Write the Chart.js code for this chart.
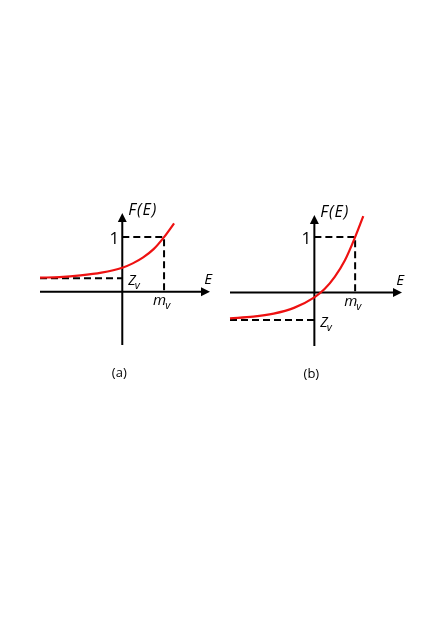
<!DOCTYPE html>
<html>
<head>
<meta charset="utf-8">
<script src="https://cdn.jsdelivr.net/npm/chart.js@4.4.1/dist/chart.umd.min.js"></script>
<style>
  body { margin: 0; background: #fff; }
  canvas { position: absolute; left: 0; top: 0; }
</style>
</head>
<body>
<canvas id="panelA" width="436" height="617"></canvas>
<canvas id="panelB" width="436" height="617"></canvas>
<script>
// panel (a) (E on x, F(E) on y)
const curveA_E = [-1.97, -1.5, -1.0, -0.5, 0, 0.25, 0.5, 0.75, 1.0, 1.24];
const curveA_F = [0.26, 0.27, 0.30, 0.35, 0.44, 0.52, 0.63, 0.78, 1.0, 1.25];
const rangeA_E = [-1.97, 2.1];
const rangeA_F = [-0.97, 1.44];
const zvA = 0.25;
const mvA = 1;

// panel (b)
const curveB_E = [-2.07, -1.5, -1.0, -0.5, 0, 0.25, 0.5, 0.75, 1.0, 1.2];
const curveB_F = [-0.47, -0.44, -0.385, -0.28, -0.09, 0.06, 0.28, 0.58, 1.0, 1.38];
const rangeB_E = [-2.07, 2.15];
const rangeB_F = [-0.97, 1.4];
const zvB = -0.5;
const mvB = 1;

// texte
const axisLabels = ["F(E)", "E", "1"];
const zLabel = ["Z", "v"];
const mLabel = ["m", "v"];
const panelLabels = ["(a)", "(b)"];

const FONT = "'Open Sans', 'Liberation Sans', Arial, sans-serif";

function toPoints(xs, ys) {
  return xs.map((x, i) => ({ x: x, y: ys[i] }));
}

// ve chu co chi so duoi
function subText(ctx, main, sub, x, y, mainFont, subFont) {
  ctx.font = mainFont;
  ctx.textAlign = "left";
  ctx.textBaseline = "middle";
  ctx.fillText(main, x, y);
  const w = ctx.measureText(main).width;
  ctx.font = subFont;
  ctx.fillText(sub, x + w - 1, y + 5);
}

function makePanel(id, E, F, range, yRange, zv, mv, label, pad) {
  const ctx = document.getElementById(id).getContext("2d");

  // truc co mui ten + chu
  const axesPlugin = {
    id: "axesArrows",
    beforeDatasetsDraw(chart) {
      const c = chart.ctx;
      const xs = chart.scales.x, ys = chart.scales.y;
      const x0 = xs.getPixelForValue(0), y0 = ys.getPixelForValue(0);
      const left = xs.getPixelForValue(range[0]), right = xs.getPixelForValue(range[1]);
      const top = ys.getPixelForValue(yRange[1]), bottom = ys.getPixelForValue(yRange[0]);
      c.save();
      c.strokeStyle = "#000";
      c.fillStyle = "#000";
      c.lineWidth = 2;
      c.beginPath();
      c.moveTo(left, y0); c.lineTo(right - 6, y0);
      c.moveTo(x0, bottom); c.lineTo(x0, top + 6);
      c.stroke();
      c.beginPath();
      c.moveTo(right, y0); c.lineTo(right - 9, y0 - 4.5); c.lineTo(right - 9, y0 + 4.5); c.closePath();
      c.fill();
      c.beginPath();
      c.moveTo(x0, top); c.lineTo(x0 - 4.5, top + 9); c.lineTo(x0 + 4.5, top + 9); c.closePath();
      c.fill();
      c.restore();
    },
    afterDraw(chart) {
      const c = chart.ctx;
      const xs = chart.scales.x, ys = chart.scales.y;
      const x0 = xs.getPixelForValue(0), y0 = ys.getPixelForValue(0);
      const right = xs.getPixelForValue(range[1]);
      const top = ys.getPixelForValue(yRange[1]);
      const bottom = ys.getPixelForValue(yRange[0]);
      c.save();
      c.fillStyle = "#000";
      c.textBaseline = "middle";
      c.textAlign = "left";
      c.font = "italic 16px " + FONT;
      c.letterSpacing = "1px";
      c.fillText(axisLabels[0], x0 + 6, top - 3);
      c.letterSpacing = "0px";
      c.textAlign = "center";
      c.font = "italic 15px " + FONT;
      c.fillText(axisLabels[1], right - 2, y0 - 12);
      c.font = "17px " + FONT;
      c.fillText(axisLabels[2], x0 - 8, ys.getPixelForValue(1) + 2);
      subText(c, zLabel[0], zLabel[1], x0 + 6, ys.getPixelForValue(zv) + 3,
        "italic 14px " + FONT, "italic 11px " + FONT);
      subText(c, mLabel[0], mLabel[1], xs.getPixelForValue(mv) - 11, y0 + 9,
        "italic 15px " + FONT, "italic 11px " + FONT);
      c.textAlign = "center";
      c.font = "13px " + FONT;
      c.fillText(label, x0 - 3, bottom + 28);
      c.restore();
    }
  };

  return new Chart(ctx, {
    type: "scatter",
    data: {
      datasets: [
        {
          // duong cong do
          data: toPoints(E, F),
          showLine: true,
          borderColor: "#ee1111",
          borderWidth: 2.2,
          pointRadius: 0,
          tension: 0.4,
          cubicInterpolationMode: "monotone",
          clip: false,
          order: 1
        },
        {
          // net dut muc 1 va m_v
          data: [{ x: 0, y: 1 }, { x: mv, y: 1 }, { x: mv, y: 0 }],
          showLine: true,
          borderColor: "#000",
          borderWidth: 2,
          borderDash: [7, 4],
          pointRadius: 0,
          clip: false,
          order: 2
        },
        {
          // net dut Z_v
          data: [{ x: range[0], y: zv }, { x: 0, y: zv }],
          showLine: true,
          borderColor: "#000",
          borderWidth: 2,
          borderDash: [7, 4],
          pointRadius: 0,
          clip: false,
          order: 2
        }
      ]
    },
    options: {
      responsive: false,
      animation: false,
      events: [],
      layout: { padding: pad },
      plugins: { legend: { display: false }, tooltip: { enabled: false } },
      scales: {
        x: { type: "linear", min: range[0], max: range[1], display: false },
        y: { type: "linear", min: yRange[0], max: yRange[1], display: false }
      }
    },
    plugins: [axesPlugin]
  });
}

makePanel("panelA", curveA_E, curveA_F, rangeA_E, rangeA_F, zvA, mvA, panelLabels[0],
  { left: 40, right: 226, top: 213, bottom: 272 });
makePanel("panelB", curveB_E, curveB_F, rangeB_E, rangeB_F, zvB, mvB, panelLabels[1],
  { left: 230, right: 34, top: 215, bottom: 271 });
</script>
</body>
</html>
